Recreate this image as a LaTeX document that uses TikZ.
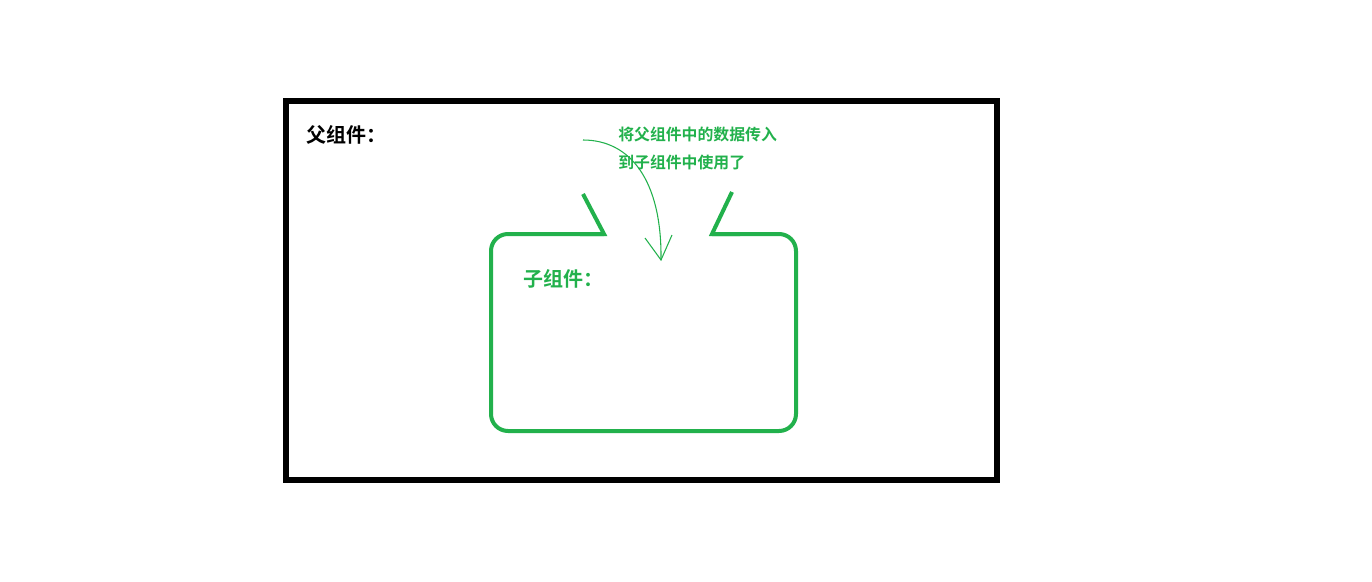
\documentclass[tikz,border=0pt]{standalone}
\usepackage{fontspec}
\newfontfamily\cjk{Noto Sans CJK SC Bold}
\definecolor{pgreen}{RGB}{34,177,76}
\begin{document}
\begin{tikzpicture}[x=0.75pt,y=-0.75pt,
  frame/.style={draw=black,line width=3.9pt},
  child/.style={draw=pgreen,line width=3pt},
  flap/.style={draw=pgreen,line width=3pt,line join=miter},
  thin/.style={draw=pgreen,line width=0.8pt},
  bigtxt/.style={font=\cjk\fontsize{15pt}{18pt}\selectfont,inner sep=0pt,anchor=west},
  note/.style={font=\cjk\fontsize{11.9pt}{14pt}\selectfont,inner sep=0pt,anchor=west,text=pgreen}]
\useasboundingbox (0,0) rectangle (1372,582);
\draw[frame] (286,101) rectangle (997,480);
\node[bigtxt] (parent) at (306,135) {父组件：};
% child component
\draw[child,rounded corners=12.75pt] (604,234) -- (491,234) -- (491,431) -- (796,431) -- (796,234) -- (712,234);
\draw[flap] (583,194) -- (604,234) -- (580,234);
\draw[flap] (732,192) -- (712,234) -- (740,234);
\node[bigtxt,text=pgreen] (childlbl) at (523,279) {子组件：};
% note
\node[note] (note1) at (618,134) {将父组件中的数据传入};
\node[note] (note2) at (618,162) {到子组件中使用了};
\coordinate (s) at (583,140);
\coordinate (e) at (661,260);
\coordinate (h1) at (645,238);
\coordinate (h2) at (672,235);
\draw[thin] (s) .. controls (630,140) and (662,180) .. (e);
\draw[thin] (h1) -- (e) -- (h2);
\end{tikzpicture}
\end{document}
